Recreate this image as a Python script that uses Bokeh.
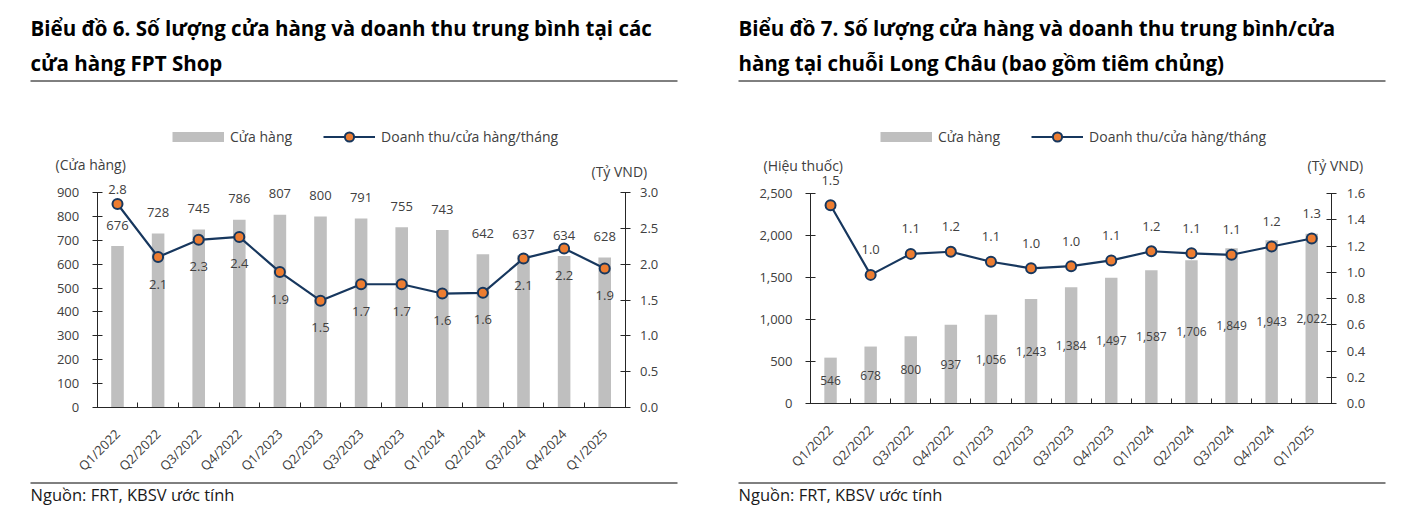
import math
from bokeh.plotting import figure
from bokeh.layouts import row
from bokeh.models import (Range1d, LinearAxis, FixedTicker, NumeralTickFormatter, ColumnDataSource,
                          LabelSet, Legend, LegendItem)
from bokeh.core.properties import value
from bokeh.embed import file_html
from bokeh.resources import INLINE

# ---------------- data ----------------
quarters = ["Q1/2022", "Q2/2022", "Q3/2022", "Q4/2022", "Q1/2023", "Q2/2023", "Q3/2023",
            "Q4/2023", "Q1/2024", "Q2/2024", "Q3/2024", "Q4/2024", "Q1/2025"]

fpt_stores = [676, 728, 745, 786, 807, 800, 791, 755, 743, 642, 637, 634, 628]
fpt_revenue = [2.84, 2.10, 2.34, 2.38, 1.89, 1.49, 1.72, 1.72, 1.59, 1.60, 2.08, 2.22, 1.94]

lc_stores = [546, 678, 800, 937, 1056, 1243, 1384, 1497, 1587, 1706, 1849, 1943, 2022]
lc_revenue = [1.51, 0.98, 1.14, 1.156, 1.08, 1.03, 1.046, 1.09, 1.16, 1.144, 1.133, 1.196, 1.257]

fpt_left_ticks = [0, 100, 200, 300, 400, 500, 600, 700, 800, 900]
fpt_right_ticks = [0.0, 0.5, 1.0, 1.5, 2.0, 2.5, 3.0]
lc_left_ticks = [0, 500, 1000, 1500, 2000, 2500]
lc_right_ticks = [0.0, 0.2, 0.4, 0.6, 0.8, 1.0, 1.2, 1.4, 1.6]

legend_bar = "Cửa hàng"
legend_line = "Doanh thu/cửa hàng/tháng"
source_note = "Nguồn: FRT, KBSV ước tính"

# label placement (style, not data): True = above the point
fpt_line_label_above = [True] + [False] * 12

# ---------------- style ----------------
FONT = "Open Sans"
BAR = "#BFBFBF"
NAVY = "#17375E"
ORANGE = "#ED7D31"
TXT = "#404040"
AX = "#262626"
H = 506


def make_panel(W, X0, cw, y0, ytop, lticks, rticks, lfmt, stores, revenue,
               title1, title2, tx, unit_left, unit_right, bar_label_mode, legend_x):
    n = len(quarters)
    xs = list(range(n))
    ymax_tick = lticks[-1]
    rmax_tick = rticks[-1]
    ppu = (y0 - ytop) / ymax_tick
    rppu = (y0 - ytop) / rmax_tick
    p = figure(width=W, height=H,
               x_range=Range1d(-0.5 - X0 / cw, -0.5 + (W - X0) / cw),
               y_range=Range1d(-(H - y0) / ppu, y0 / ppu),
               x_axis_type=None, y_axis_type=None, toolbar_location=None, output_backend="svg",
               min_border=0, min_border_left=0, min_border_right=0, min_border_top=0,
               min_border_bottom=0, outline_line_color=None,
               background_fill_color="white", border_fill_color="white")
    p.extra_y_ranges = {"rev": Range1d(-(H - y0) / rppu, y0 / rppu), "py": Range1d(H, 0)}
    p.extra_x_ranges = {"px": Range1d(0, W)}

    # axes (fixed at the plot-area edges, limited by bounds)
    xaxis = LinearAxis(fixed_location=0, bounds=(-0.5, n - 0.5),
                       ticker=FixedTicker(ticks=xs, minor_ticks=[i - 0.5 for i in range(n + 1)]),
                       major_label_overrides={i: q for i, q in enumerate(quarters)},
                       major_label_orientation=math.pi / 4,
                       major_tick_line_color=None, minor_tick_in=5, minor_tick_out=0,
                       minor_tick_line_color=AX, axis_line_color=AX,
                       major_label_text_font=FONT, major_label_text_font_size="13px",
                       major_label_text_color=TXT, major_label_standoff=18)
    p.add_layout(xaxis, "below")
    yl = LinearAxis(fixed_location=-0.5, bounds=(0, ymax_tick),
                    ticker=FixedTicker(ticks=lticks), formatter=NumeralTickFormatter(format=lfmt),
                    major_tick_in=5, major_tick_out=5, minor_tick_line_color=None,
                    axis_line_color=AX, major_tick_line_color=AX,
                    major_label_text_font=FONT, major_label_text_font_size="13px",
                    major_label_text_color=TXT, major_label_standoff=13)
    p.add_layout(yl, "left")
    yr = LinearAxis(y_range_name="rev", fixed_location=n - 0.5, bounds=(0, rmax_tick),
                    ticker=FixedTicker(ticks=rticks), formatter=NumeralTickFormatter(format="0.0"),
                    major_tick_in=5, major_tick_out=5, minor_tick_line_color=None,
                    axis_line_color=AX, major_tick_line_color=AX,
                    major_label_text_font=FONT, major_label_text_font_size="13px",
                    major_label_text_color=TXT, major_label_standoff=10)
    p.add_layout(yr, "right")

    src = ColumnDataSource(dict(x=xs, stores=stores, half=[v / 2 for v in stores], rev=revenue,
                                slab=[f"{v:,}" for v in stores],
                                rlab=[f"{v:.1f}" for v in revenue]))
    p.vbar(x="x", top="stores", width=0.31, source=src, fill_color=BAR, line_color=None)
    ln = p.line(x="x", y="rev", source=src, y_range_name="rev", line_color=NAVY, line_width=2.2)
    sc = p.scatter(x="x", y="rev", source=src, y_range_name="rev", size=10,
                   fill_color=ORANGE, line_color=NAVY, line_width=2)

    # data labels
    if bar_label_mode == "top":
        p.add_layout(LabelSet(x="x", y="stores", text="slab", source=src, y_offset=21,
                              text_align="center", text_baseline="middle",
                              text_font=value(FONT), text_font_size="13px", text_color=TXT))
        src.data["dy"] = [14 if a else -27 for a in fpt_line_label_above]
        p.add_layout(LabelSet(x="x", y="rev", text="rlab", source=src, y_range_name="rev",
                              y_offset="dy", text_align="center", text_baseline="middle",
                              text_font=value(FONT), text_font_size="13px", text_color=TXT))
    else:
        p.add_layout(LabelSet(x="x", y="half", text="slab", source=src,
                              text_align="center", text_baseline="middle",
                              text_font=value(FONT), text_font_size="12px", text_color=TXT))
        p.add_layout(LabelSet(x="x", y="rev", text="rlab", source=src, y_range_name="rev",
                              y_offset=25, text_align="center", text_baseline="middle",
                              text_font=value(FONT), text_font_size="13px", text_color=TXT))

    # legend: the bar swatch is drawn by a styled line renderer that has no visible points
    sw = p.line(x=[0, 1], y=[float("nan"), float("nan")], line_color=BAR, line_width=10)
    legend = Legend(items=[LegendItem(label=legend_bar, renderers=[sw]),
                           LegendItem(label=legend_line, renderers=[ln, sc])],
                    orientation="horizontal", location=(legend_x, H - 136 - 11.5),
                    glyph_width=52, glyph_height=23, label_standoff=6, spacing=31,
                    padding=0, margin=0, border_line_color=None, background_fill_alpha=0,
                    label_text_font=FONT, label_text_font_size="14px", label_text_color=TXT)
    p.add_layout(legend, "center")

    # headings, rules, source and unit labels (pixel ranges)
    deco = dict(x_range_name="px", y_range_name="py", text_baseline="middle",
                text_align="left", text_font=value(FONT))
    p.text(x=[tx, tx], y=[27, 62], text=[title1, title2], text_font_size="20.5px",
           text_font_style="bold", text_color="#000000", **deco)
    p.text(x=[tx], y=[494], text=[source_note], text_font_size="16.5px", text_color="#1a1a1a", **deco)
    p.text(x=[unit_left[1], unit_right[1]], y=[unit_left[2], unit_right[2]],
           text=[unit_left[0], unit_right[0]], text_font_size="14px", text_color=TXT, **deco)
    p.segment(x0=[tx, tx], x1=[tx + 647, tx + 647], y0=[80.5, 482.5], y1=[80.5, 482.5],
              x_range_name="px", y_range_name="py", line_color="#000000", line_width=1)
    return p


p1 = make_panel(708, 96.7, 40.6, 407, 192, fpt_left_ticks, fpt_right_ticks, "0",
                fpt_stores, fpt_revenue,
                "Biểu đồ 6. Số lượng cửa hàng và doanh thu trung bình tại các",
                "cửa hàng FPT Shop", 30,
                ("(Cửa hàng)", 55, 164), ("(Tỷ VND)", 591, 171), "top", 172)
p2 = make_panel(681, 102, 40.1, 403, 193, lc_left_ticks, lc_right_ticks, "0,0",
                lc_stores, lc_revenue,
                "Biểu đồ 7. Số lượng cửa hàng và doanh thu trung bình/cửa",
                "hàng tại chuỗi Long Châu (bao gồm tiêm chủng)", 30,
                ("(Hiệu thuốc)", 55, 165), ("(Tỷ VND)", 599, 165), "mid", 172)

layout = row(p1, p2, spacing=0)
open("out.html", "w").write(file_html(layout, INLINE))
